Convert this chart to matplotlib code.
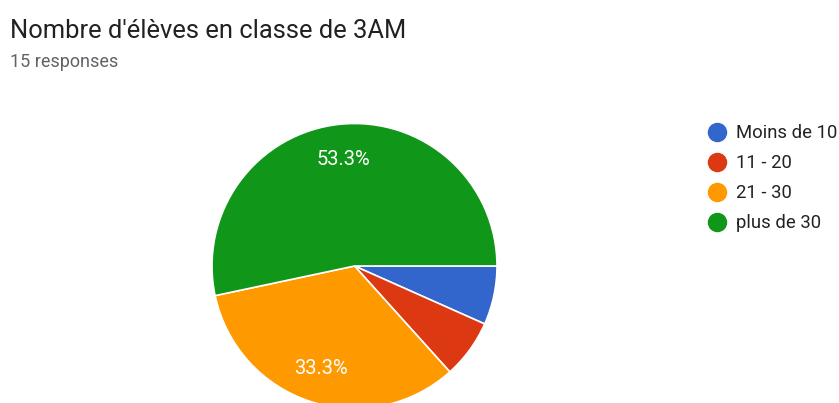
import matplotlib.pyplot as plt
from matplotlib.lines import Line2D

plt.rcParams["font.family"] = ["Roboto", "DejaVu Sans"]

# Data
categories = ["Moins de 10", "11 - 20", "21 - 30", "plus de 30"]
counts = [1, 1, 5, 8]
colors = ["#3366cc", "#dc3912", "#ff9900", "#109618"]
title = "Nombre d'élèves en classe de 3AM"
subtitle = "15 responses"

W, H = 839, 403
fig = plt.figure(figsize=(W / 100, H / 100), dpi=100)
ax = fig.add_axes([0, 0, 1, 1])
ax.set_xlim(0, W)
ax.set_ylim(0, H)
ax.set_aspect("equal")
ax.axis("off")


def pct_label(p):
    # hide labels on small slices, like Google Forms does
    return f"{p:.1f}%" if p > 10 else ""


wedges, texts, autotexts = ax.pie(
    counts,
    colors=colors,
    startangle=0,
    counterclock=False,
    center=(354.5, H - 266),
    radius=142.5,
    autopct=pct_label,
    pctdistance=0.755,
    wedgeprops=dict(edgecolor="white", linewidth=1.2),
    textprops=dict(color="white", fontsize=14.5),
)
ax.set_xlim(0, W)
ax.set_ylim(0, H)

# Titles
fig.text(10 / W, 1 - 31 / H, title, fontsize=18.4, color="#212121", va="center", ha="left")
fig.text(10 / W, 1 - 62 / H, subtitle, fontsize=13, color="#5f6368", va="center", ha="left")

# Legend
handles = [
    Line2D([], [], linestyle="none", marker="o", markersize=13, markerfacecolor=c, markeredgecolor=c)
    for c in colors
]
leg = fig.legend(
    handles,
    categories,
    loc="upper left",
    bbox_to_anchor=(708 / W, 1 - 124 / H),
    frameon=False,
    fontsize=13.3,
    handlelength=1.0,
    handletextpad=0.5,
    labelspacing=0.65,
    borderpad=0,
    borderaxespad=0,
)
for t in leg.get_texts():
    t.set_color("#222222")

fig.savefig("out.png", dpi=100)
